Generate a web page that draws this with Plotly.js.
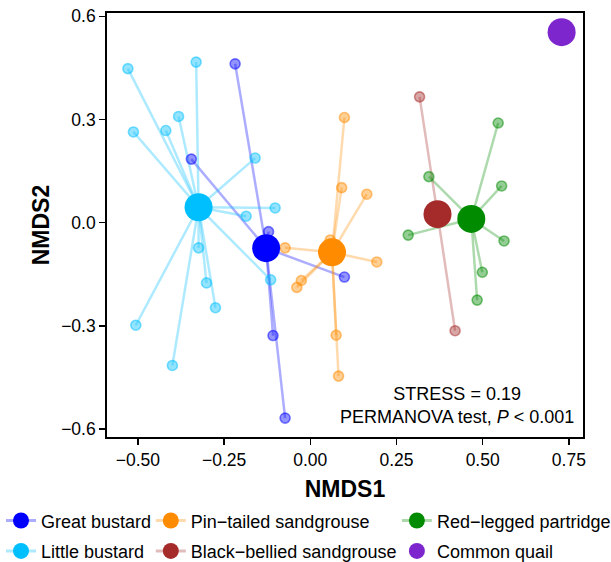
<!DOCTYPE html>
<html>
<head>
<meta charset="utf-8">
<script src="https://cdn.plot.ly/plotly-3.0.1.min.js"></script>
<style>html,body{margin:0;padding:0;background:#fff;}#chart{width:611px;height:562px;}</style>
</head>
<body>
<div id="chart"></div>
<script>
// ---- data ----
const groupNames = ["Great bustard", "Little bustard", "Pin\u2212tailed sandgrouse",
                    "Black\u2212bellied sandgrouse", "Red\u2212legged partridge", "Common quail"];
const groupColors = ["0,0,255", "0,191,255", "255,140,0", "165,42,42", "0,139,0", "125,38,205"];

const greatBustardX = [-0.218, -0.345, -0.121, 0.099, -0.108, -0.073];
const greatBustardY = [0.462, 0.185, -0.026, -0.158, -0.328, -0.568];
const littleBustardX = [-0.529, -0.331, -0.382, -0.419, -0.513, -0.160, -0.102, -0.186, -0.324, -0.301, -0.275, -0.506, -0.400, -0.115];
const littleBustardY = [0.448, 0.467, 0.309, 0.268, 0.264, 0.188, 0.043, 0.019, -0.073, -0.175, -0.247, -0.298, -0.415, -0.166];
const pinTailedX = [0.099, 0.091, 0.164, 0.058, -0.073, 0.193, -0.026, -0.039, 0.075, 0.082];
const pinTailedY = [0.306, 0.102, 0.083, -0.050, -0.073, -0.114, -0.168, -0.188, -0.327, -0.446];
const blackBelliedX = [0.317, 0.420];
const blackBelliedY = [0.366, -0.314];
const redLeggedX = [0.545, 0.344, 0.555, 0.284, 0.562, 0.499, 0.484];
const redLeggedY = [0.290, 0.134, 0.107, -0.036, -0.053, -0.144, -0.225];
const commonQuailX = [];
const commonQuailY = [];

const centroidX = [-0.128, -0.324, 0.063, 0.369, 0.467, 0.729];
const centroidY = [-0.074, 0.045, -0.086, 0.025, 0.011, 0.554];

const xTickVals = [-0.50, -0.25, 0.00, 0.25, 0.50, 0.75];
const yTickVals = [-0.6, -0.3, 0.0, 0.3, 0.6];

const pointsX = [greatBustardX, littleBustardX, pinTailedX, blackBelliedX, redLeggedX, commonQuailX];
const pointsY = [greatBustardY, littleBustardY, pinTailedY, blackBelliedY, redLeggedY, commonQuailY];

// legend column for each group
const legendIds = ["legend", "legend", "legend2", "legend2", "legend3", "legend3"];

const segTraces = [], ptTraces = [], cenTraces = [];
for (let g = 0; g < groupNames.length; g++) {
  const c = groupColors[g];
  const sx = [], sy = [];
  for (let i = 0; i < pointsX[g].length; i++) {
    sx.push(centroidX[g], pointsX[g][i], null);
    sy.push(centroidY[g], pointsY[g][i], null);
  }
  if (sx.length) {
    segTraces.push({
      type: "scatter", mode: "lines", x: sx, y: sy, showlegend: false, hoverinfo: "skip",
      line: {color: "rgba(" + c + ",0.32)", width: 2.5}
    });
    ptTraces.push({
      type: "scatter", mode: "markers", x: pointsX[g], y: pointsY[g], showlegend: false,
      marker: {size: 10, color: "rgba(" + c + ",0.42)", line: {color: "rgba(" + c + ",0.5)", width: 1.6}}
    });
  }
  cenTraces.push({
    type: "scatter", mode: g === 5 ? "markers" : "lines+markers",
    x: [centroidX[g]], y: [centroidY[g]], name: groupNames[g],
    legend: legendIds[g], legendgroup: "g" + g,
    line: {color: "rgba(" + c + ",0.32)", width: 3},
    marker: {size: 28, color: "rgb(" + c + ")"}
  });
}

const legendBase = {
  orientation: "v", yanchor: "top", xanchor: "left",
  bgcolor: "rgba(0,0,0,0)", font: {family: "Liberation Sans, Arial, sans-serif", size: 18, color: "#000"},
  tracegroupgap: 4, itemwidth: 30, traceorder: "grouped"
};

const layout = {
  width: 611, height: 562,
  margin: {l: 107, r: 28, t: 13, b: 125, autoexpand: false},
  paper_bgcolor: "#fff", plot_bgcolor: "#fff",
  font: {family: "Liberation Sans, Arial, sans-serif", color: "#000"},
  xaxis: {
    range: [-0.5896, 0.791], tickvals: xTickVals, tickformat: ".2f", automargin: false,
    ticks: "outside", ticklen: 6, tickwidth: 1.5, tickcolor: "#000",
    showline: true, linecolor: "#000", linewidth: 1.8, mirror: true,
    showgrid: false, zeroline: false, tickfont: {size: 17.5, color: "#000"},
    title: {text: "<b>NMDS1</b>", font: {size: 23, color: "#000"}, standoff: 12}
  },
  yaxis: {
    range: [-0.623, 0.6098], tickvals: yTickVals, tickformat: ".1f", automargin: false,
    ticks: "outside", ticklen: 6, tickwidth: 1.5, tickcolor: "#000",
    showline: true, linecolor: "#000", linewidth: 1.8, mirror: true,
    showgrid: false, zeroline: false, tickfont: {size: 17.5, color: "#000"},
    title: {text: "<b>NMDS2</b>", font: {size: 23, color: "#000"}, standoff: 5}
  },
  legend: Object.assign({}, legendBase, {x: -0.2227, y: -0.154}),
  legend2: Object.assign({}, legendBase, {x: 0.092, y: -0.154}),
  legend3: Object.assign({}, legendBase, {x: 0.609, y: -0.154}),
  annotations: [{
    xref: "paper", yref: "paper", x: 0.735, y: 0.074, xanchor: "center", yanchor: "middle",
    showarrow: false, align: "center",
    text: "STRESS = 0.19<br>PERMANOVA test, <i>P</i> &lt; 0.001",
    font: {size: 18, color: "#000"}
  }],
  showlegend: true
};

Plotly.newPlot("chart", segTraces.concat(ptTraces, cenTraces), layout, {displayModeBar: false, staticPlot: true});
</script>
</body>
</html>
